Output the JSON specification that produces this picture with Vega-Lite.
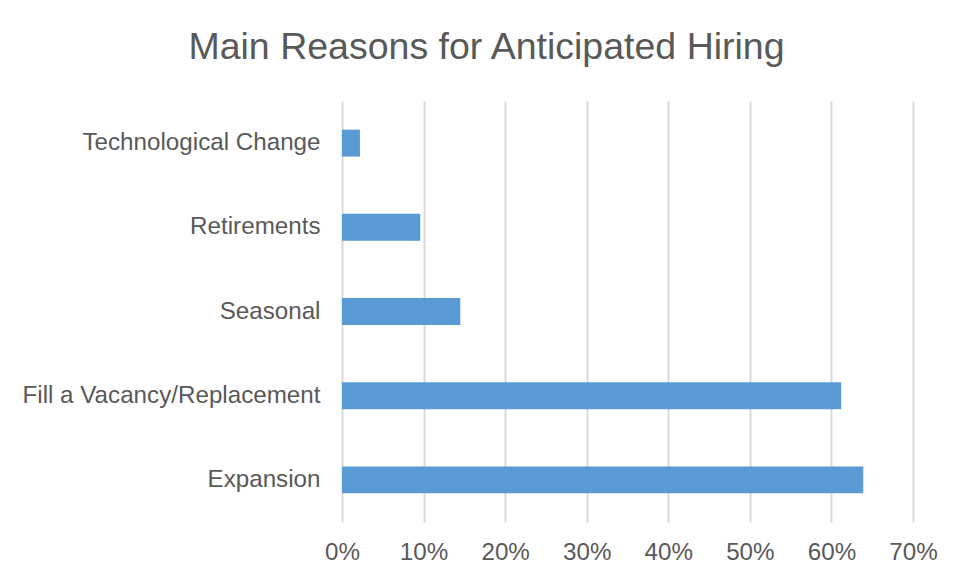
{
  "$schema": "https://vega.github.io/schema/vega-lite/v6.json",
  "width": 571,
  "height": 421,
  "autosize": "none",
  "padding": {"left": 342, "top": 101, "right": 43, "bottom": 56},
  "background": "white",
  "title": {
    "text": "Main Reasons for Anticipated Hiring",
    "font": "Liberation Sans",
    "fontSize": 37.5,
    "fontWeight": "normal",
    "color": "#595959",
    "anchor": "middle",
    "baseline": "alphabetic",
    "offset": 42,
    "dx": -141,
    "dy": 37
  },
  "data": {
    "values": [
      {"reason": "Technological Change", "share": 0.022},
      {"reason": "Retirements", "share": 0.096},
      {"reason": "Seasonal", "share": 0.145},
      {"reason": "Fill a Vacancy/Replacement", "share": 0.612},
      {"reason": "Expansion", "share": 0.639}
    ]
  },
  "mark": {"type": "bar", "color": "#5b9bd5"},
  "encoding": {
    "y": {
      "field": "reason",
      "type": "nominal",
      "sort": ["Technological Change", "Retirements", "Seasonal", "Fill a Vacancy/Replacement", "Expansion"],
      "scale": {"paddingInner": 0.68, "paddingOuter": 0.34},
      "axis": {
        "title": null,
        "domain": false,
        "ticks": false,
        "grid": false,
        "labelFont": "Liberation Sans",
        "labelFontSize": 24.2,
        "labelColor": "#595959",
        "labelPadding": 22,
        "labelLimit": 400
      }
    },
    "x": {
      "field": "share",
      "type": "quantitative",
      "scale": {"domain": [0, 0.7], "nice": false},
      "axis": {
        "title": null,
        "format": ".0%",
        "values": [0, 0.1, 0.2, 0.3, 0.4, 0.5, 0.6, 0.7],
        "domain": false,
        "ticks": false,
        "grid": true,
        "gridColor": "#d9d9d9",
        "gridWidth": 2,
        "labelFlush": false,
        "labelOverlap": false,
        "labelFont": "Liberation Sans",
        "labelFontSize": 24.2,
        "labelColor": "#595959",
        "labelPadding": 18
      }
    }
  },
  "config": {
    "view": {"stroke": null}
  }
}
